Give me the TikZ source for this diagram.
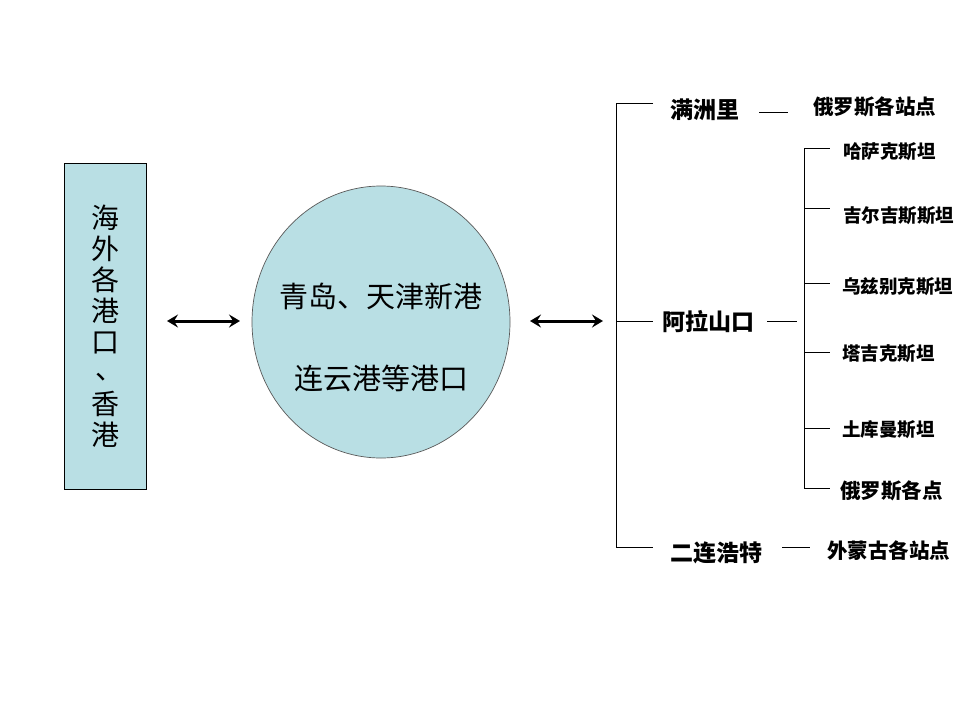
\documentclass[tikz,border=0pt]{standalone}
\usepackage{fontspec}
\newfontfamily\cjk{Noto Sans CJK SC}
\usetikzlibrary{arrows.meta,shapes.geometric}
\definecolor{boxblue}{RGB}{185,223,228}
\begin{document}
\begin{tikzpicture}[x=1pt,y=-1pt,
  lbl/.style={inner sep=0pt, anchor=west},
  big/.style={lbl, font=\cjk\bfseries\fontsize{23}{26}\selectfont},
  mid/.style={lbl, font=\cjk\bfseries\fontsize{20.5}{24}\selectfont},
  small/.style={lbl, font=\cjk\bfseries\fontsize{18.5}{22}\selectfont},
  tline/.style={line width=0.8pt},
  dbl/.style={line width=3pt, {Stealth[length=11pt,width=13pt,inset=4pt]}-{Stealth[length=11pt,width=13pt,inset=4pt]}}
]
\useasboundingbox (0,0) rectangle (960,720);
\fill[white] (0,0) rectangle (960,720);

% left box
\node[draw=black, line width=0.6pt, fill=boxblue, minimum width=82pt, minimum height=326pt,
      inner sep=0pt, align=center, font=\cjk\fontsize{28}{31}\selectfont] (left) at (105,326)
  {海\\外\\各\\港\\口\\\hspace*{0.3em}\raisebox{0.12em}{、}\hspace*{-0.3em}\\香\\港};

% hub ellipse
\node[ellipse, draw=black!65, line width=0.7pt, fill=boxblue, minimum width=258pt, minimum height=272pt, inner sep=0pt] (hub) at (381,322) {};
\node[inner sep=0pt, font=\cjk\fontsize{29}{32}\selectfont] (t1) at (381,296) {青岛、天津新港};
\node[inner sep=0pt, font=\cjk\fontsize{29}{32}\selectfont] (t2) at (381,378) {连云港等港口};

% arrows
\coordinate (a1) at (167,321); \coordinate (a2) at (240,321);
\coordinate (b1) at (530,321); \coordinate (b2) at (603,321);
\draw[dbl] (a1) -- (a2);
\draw[dbl] (b1) -- (b2);

% main bracket
\coordinate (m0) at (616,103); \coordinate (m1) at (616,321); \coordinate (m2) at (616,547);
\coordinate (m0e) at (653,103); \coordinate (m1e) at (653,321); \coordinate (m2e) at (653,547);
\draw[tline] (m0e) -- (m0) -- (m2) -- (m2e);
\draw[tline] (m1) -- (m1e);

\node[big] (mzl) at (670,110) {满洲里};
\node[mid] (mzlr) at (813,107) {俄罗斯各站点};
\coordinate (l1a) at (759,112); \coordinate (l1b) at (788,112);
\draw[tline] (l1a) -- (l1b);

\node[big] (als) at (662,322) {阿拉山口};
\coordinate (l2a) at (767,321); \coordinate (l2b) at (797,321);
\draw[tline] (l2a) -- (l2b);

\node[big] (elh) at (670,553) {二连浩特};
\node[mid] (elhr) at (827,551) {外蒙古各站点};
\coordinate (l3a) at (782,547); \coordinate (l3b) at (810,547);
\draw[tline] (l3a) -- (l3b);

% sub bracket
\coordinate (s0) at (804,148); \coordinate (s5) at (804,488);
\draw[tline] (s0) -- (s5);
\foreach \y/\nm in {148/k1,208/k2,283/k3,352/k4,428/k5,488/k6}{
  \coordinate (\nm a) at (804,\y); \coordinate (\nm b) at (830,\y);
  \draw[tline] (\nm a) -- (\nm b);
}
\node[small] (kz) at (843,152) {哈萨克斯坦};
\node[small] (kg) at (843,216) {吉尔吉斯斯坦};
\node[small] (uz) at (842,287) {乌兹别克斯坦};
\node[small] (tj) at (842,354) {塔吉克斯坦};
\node[small] (tm) at (842,430) {土库曼斯坦};
\node[mid] (ru) at (840,491) {俄罗斯各点};
\end{tikzpicture}
\end{document}
